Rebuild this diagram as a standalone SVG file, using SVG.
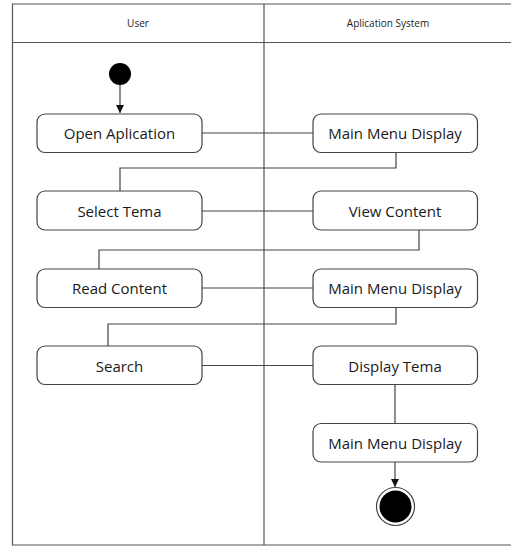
<svg xmlns="http://www.w3.org/2000/svg" width="511" height="546" viewBox="0 0 511 546">
<defs>
<style>
.lane{fill:none;stroke:#555;stroke-width:1.2}
.box{fill:#fff;stroke:#444;stroke-width:1.2}
.t{font-family:"Open Sans","Liberation Sans",sans-serif;font-size:15px;fill:#1a1a1a;text-anchor:middle;dominant-baseline:central}
.h{font-family:"Open Sans","Liberation Sans",sans-serif;font-size:10px;fill:#222;text-anchor:middle;dominant-baseline:central}
.c{fill:none;stroke:#444;stroke-width:1.2}
</style>
<marker id="arr" viewBox="0 0 10 10" refX="10" refY="5" markerWidth="8" markerHeight="8" markerUnits="userSpaceOnUse" orient="auto">
<path d="M0,0 L10,5 L0,10 z" fill="#111"/>
</marker>
</defs>
<g id="swimlanes">
<path class="lane" d="M511,4 H12.5 V545 H511 M12.5,42.5 H511 M264,4 V545"/>
<text class="h" x="138" y="23">User</text>
<text class="h" x="388" y="23">Aplication System</text>
</g>
<g id="connectors">
<path class="c" d="M120,85 V113" marker-end="url(#arr)"/>
<path class="c" d="M202,133 H313"/>
<path class="c" d="M396,152 V168 H120 V191"/>
<path class="c" d="M202,211 H313"/>
<path class="c" d="M419,230 V250 H99 V269"/>
<path class="c" d="M202,288 H313"/>
<path class="c" d="M396,307 V324 H108 V346"/>
<path class="c" d="M202,365.5 H313"/>
<path class="c" d="M395,384 V423"/>
<path class="c" d="M395,462 V487" marker-end="url(#arr)"/>
</g>
<g id="start"><circle cx="120" cy="74" r="11" fill="#000"/></g>
<g id="open-aplication"><rect class="box" x="37" y="114" width="165" height="38.5" rx="8"/><text class="t" x="119.5" y="133">Open Aplication</text></g>
<g id="main-menu-1"><rect class="box" x="313" y="114" width="164.5" height="38.5" rx="8"/><text class="t" x="395" y="133">Main Menu Display</text></g>
<g id="select-tema"><rect class="box" x="37" y="191" width="165" height="39" rx="8"/><text class="t" x="119.5" y="210.5">Select Tema</text></g>
<g id="view-content"><rect class="box" x="313" y="191" width="164.5" height="39" rx="8"/><text class="t" x="395" y="210.5">View Content</text></g>
<g id="read-content"><rect class="box" x="37" y="269" width="165" height="38.5" rx="8"/><text class="t" x="119.5" y="288">Read Content</text></g>
<g id="main-menu-2"><rect class="box" x="313" y="269" width="164.5" height="38.5" rx="8"/><text class="t" x="395" y="288">Main Menu Display</text></g>
<g id="search"><rect class="box" x="37" y="346" width="165" height="38.5" rx="8"/><text class="t" x="119.5" y="365.5">Search</text></g>
<g id="display-tema"><rect class="box" x="313" y="346" width="164.5" height="38.5" rx="8"/><text class="t" x="395" y="365.5">Display Tema</text></g>
<g id="main-menu-3"><rect class="box" x="313" y="423.5" width="164.5" height="38.5" rx="8"/><text class="t" x="395" y="443">Main Menu Display</text></g>
<g id="end"><circle cx="395.5" cy="506.5" r="19" fill="#fff" stroke="#444" stroke-width="1.2"/><circle cx="395.5" cy="506.5" r="16" fill="#000"/></g>
</svg>
